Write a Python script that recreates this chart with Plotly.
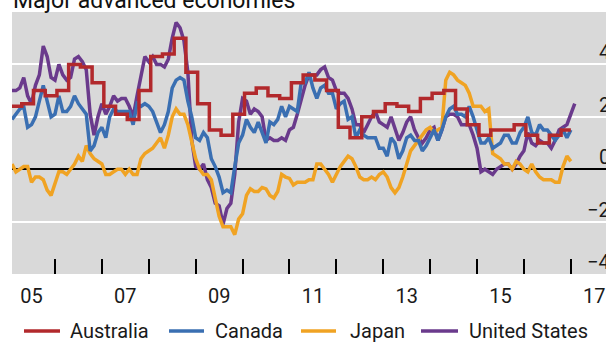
import plotly.graph_objects as go

FIRST_YEAR = 2005

# Consumer price inflation, year-on-year, per cent.
# Monthly series start in January 2005.
united_states = [
    3.0, 3.0, 3.1, 3.5, 2.8, 2.5, 3.2, 3.6, 4.7, 4.3, 3.5, 3.4,
    4.0, 3.6, 3.4, 3.5, 4.2, 4.3, 4.1, 3.8, 2.1, 1.3, 2.0, 2.5,
    2.1, 2.4, 2.8, 2.6, 2.7, 2.7, 2.4, 2.0, 2.8, 3.5, 4.3, 4.1,
    4.3, 4.0, 4.0, 3.9, 4.2, 5.0, 5.6, 5.4, 4.9, 3.7, 1.1, 0.1,
    0.0, 0.2, -0.4, -0.7, -1.3, -1.4, -2.1, -1.5, -1.3, -0.2, 1.8, 2.7,
    2.6, 2.1, 2.3, 2.2, 2.0, 1.1, 1.2, 1.1, 1.1, 1.2, 1.1, 1.5,
    1.6, 2.1, 2.7, 3.2, 3.6, 3.6, 3.6, 3.8, 3.9, 3.5, 3.4, 3.0,
    2.9, 2.9, 2.7, 2.3, 1.7, 1.7, 1.4, 1.7, 2.0, 2.2, 1.8, 1.7,
    1.6, 2.0, 1.5, 1.1, 1.4, 1.8, 2.0, 1.5, 1.2, 1.0, 1.2, 1.5,
    1.6, 1.1, 1.5, 2.0, 2.1, 2.1, 2.0, 1.7, 1.7, 1.7, 1.3, 0.8,
    -0.1, 0.0, -0.1, -0.2, 0.0, 0.1, 0.2, 0.2, 0.0, 0.2, 0.5, 0.7,
    1.4, 1.0, 0.9, 1.1, 1.0, 1.0, 0.8, 1.1, 1.5, 1.6, 1.7, 2.1,
    2.5,
]

canada = [
    1.9, 2.1, 2.3, 2.4, 1.6, 1.7, 2.0, 2.6, 3.2, 2.6, 2.0, 2.1,
    2.8, 2.2, 2.2, 2.4, 2.8, 2.5, 2.3, 2.1, 0.7, 0.9, 1.4, 1.6,
    1.2, 2.0, 2.3, 2.2, 2.2, 2.2, 2.2, 1.7, 2.5, 2.4, 2.5, 2.4,
    2.2, 1.8, 1.4, 1.7, 2.2, 3.1, 3.4, 3.5, 3.4, 2.6, 2.0, 1.2,
    1.1, 1.4, 1.2, 0.4, 0.1, -0.3, -0.9, -0.8, -0.9, 0.1, 1.0, 1.3,
    1.9, 1.6, 1.4, 1.8, 1.4, 1.0, 1.8, 1.7, 1.9, 2.4, 2.0, 2.4,
    2.3, 2.2, 3.3, 3.3, 3.7, 3.1, 2.7, 3.1, 3.2, 2.9, 2.9, 2.3,
    2.5, 2.6, 1.9, 2.0, 1.2, 1.5, 1.3, 1.2, 1.2, 1.2, 0.8, 0.8,
    0.5, 1.2, 1.0, 0.4, 0.7, 1.2, 1.3, 1.1, 1.1, 0.7, 0.9, 1.2,
    1.5, 1.1, 1.5, 2.0, 2.3, 2.4, 2.1, 2.1, 2.0, 2.4, 2.0, 1.5,
    1.0, 1.0, 1.2, 0.8, 0.9, 1.0, 1.3, 1.3, 1.0, 1.0, 1.4, 1.6,
    2.0, 1.4, 1.3, 1.7, 1.5, 1.5, 1.3, 1.1, 1.3, 1.5, 1.2, 1.5,
]

japan = [
    0.2, -0.1, 0.0, 0.1, 0.1, -0.5, -0.3, -0.3, -0.4, -0.8, -1.0, -0.5,
    -0.1, -0.1, -0.2, 0.0, 0.2, 0.5, 0.3, 0.9, 0.6, 0.4, 0.3, 0.2,
    -0.2, -0.2, -0.1, 0.0, 0.0, -0.2, 0.0, -0.2, -0.2, 0.4, 0.6, 0.7,
    0.8, 1.0, 1.2, 0.8, 1.3, 2.0, 2.3, 2.1, 2.1, 1.7, 1.0, 0.4,
    0.0, -0.2, -0.2, -0.4, -1.1, -1.8, -2.2, -2.2, -2.2, -2.5, -1.9, -1.7,
    -1.0, -0.75, -0.85, -0.85, -0.7, -0.75, -1.0, -1.1, -0.85, -0.2, -0.3, -0.35,
    -0.6, -0.5, -0.5, -0.5, -0.4, -0.4, 0.2, 0.2, 0.0, -0.2, -0.5, -0.2,
    0.1, 0.3, 0.5, 0.4, 0.1, -0.3, -0.4, -0.4, -0.3, -0.4, -0.2, -0.1,
    -0.3, -0.7, -0.9, -0.7, -0.3, 0.2, 0.7, 0.9, 1.1, 1.3, 1.5, 1.6,
    1.4, 1.5, 1.6, 3.4, 3.7, 3.6, 3.4, 3.3, 3.2, 2.9, 2.4, 2.4,
    2.4, 2.2, 2.3, 0.6, 0.5, 0.4, 0.2, 0.2, 0.0, 0.3, 0.2, 0.0,
    -0.1, 0.2, -0.1, -0.3, -0.4, -0.4, -0.4, -0.5, -0.5, 0.1, 0.5, 0.3,
]

# Australia is published quarterly, Q1 2005 to Q4 2016.
australia_q = [
    2.4, 2.5, 3.0, 2.8,
    3.0, 4.0, 3.9, 3.3,
    2.4, 2.1, 1.9, 3.0,
    4.3, 4.4, 5.0, 3.7,
    2.5, 1.5, 1.3, 2.1,
    2.9, 3.1, 2.8, 2.7,
    3.3, 3.6, 3.4, 3.0,
    1.6, 1.2, 2.0, 2.2,
    2.5, 2.4, 2.2, 2.7,
    2.9, 3.0, 2.3, 1.7,
    1.3, 1.5, 1.5, 1.7,
    1.3, 1.0, 1.3, 1.5,
]

label_years = [2005, 2007, 2009, 2011, 2013, 2015, 2017]
year_labels = ["05", "07", "09", "11", "13", "15", "17"]
value_ticks = [-4, -2, 0, 2, 4]

series_names = ["Australia", "Canada", "Japan", "United States"]
series_colors = ["#B2292C", "#3A6FB2", "#F0A323", "#6A3A8C"]

FONT = "Roboto"
TEXT_COLOR = "#1a1a1a"

# Plot-area geometry in pixels
WIDTH, HEIGHT = 606, 342
PLOT_LEFT, PLOT_RIGHT, PLOT_TOP, PLOT_BOTTOM = 12, 606, 12, 274


def month_positions(n):
    # each monthly observation sits at the end of its month
    return [FIRST_YEAR + (i + 1) / 12 for i in range(n)]


def paper_x(px):
    return (px - PLOT_LEFT) / (PLOT_RIGHT - PLOT_LEFT)


def paper_y(py):
    return (PLOT_BOTTOM - py) / (PLOT_BOTTOM - PLOT_TOP)


def value_label(v):
    return str(v).replace("-", "\u2212")


# quarterly steps: each level covers its three months
quarter_x = [FIRST_YEAR + (3 * k + 0.5) / 12 for k in range(len(australia_q))]
quarter_x.append(FIRST_YEAR + 3 * len(australia_q) / 12)
quarter_y = australia_q + australia_q[-1:]

x_range = [FIRST_YEAR + 1 / 12, 2017.75]

fig = go.Figure()

line_w = 3.5
fig.add_trace(go.Scatter(x=month_positions(len(united_states)), y=united_states, mode="lines",
                         name=series_names[3], line=dict(color=series_colors[3], width=line_w)))
fig.add_trace(go.Scatter(x=month_positions(len(japan)), y=japan, mode="lines",
                         name=series_names[2], line=dict(color=series_colors[2], width=line_w)))
fig.add_trace(go.Scatter(x=month_positions(len(canada)), y=canada, mode="lines",
                         name=series_names[1], line=dict(color=series_colors[1], width=line_w)))
fig.add_trace(go.Scatter(x=quarter_x, y=quarter_y, mode="lines", line_shape="hv",
                         name=series_names[0], line=dict(color=series_colors[0], width=line_w)))

# Hand-placed legend row under the axis
legend_rows = [  # (line start px, line end px, text start px)
    (24, 60, 70),
    (169, 204, 215),
    (301, 336, 350),
    (421, 458, 469),
]
legend_y = 331
shapes = []
annotations = []
for (x0, x1, tx), name, color in zip(legend_rows, series_names, series_colors):
    shapes.append(dict(type="line", xref="paper", yref="paper",
                       x0=paper_x(x0), x1=paper_x(x1), y0=paper_y(legend_y), y1=paper_y(legend_y),
                       line=dict(color=color, width=3.5)))
    annotations.append(dict(text=name, xref="paper", yref="paper", x=paper_x(tx), y=paper_y(legend_y),
                            xanchor="left", yanchor="middle", showarrow=False, xshift=-2,
                            font=dict(family=FONT, size=20, color=TEXT_COLOR)))

# Value labels sit just above their gridlines, hugging the right edge
for v in value_ticks:
    annotations.append(dict(text=value_label(v), xref="paper", yref="y", x=1, y=v,
                            xanchor="right", yanchor="middle", showarrow=False,
                            xshift=6, yshift=12,
                            font=dict(family=FONT, size=20, color=TEXT_COLOR)))

annotations.append(dict(text="Major advanced economies", xref="paper", yref="paper", x=0, y=1,
                        xanchor="left", yanchor="bottom", showarrow=False, yshift=-4, xshift=-1,
                        font=dict(family=FONT, size=23, color="#111111")))

fig.update_layout(
    width=WIDTH, height=HEIGHT,
    margin=dict(l=PLOT_LEFT, r=WIDTH - PLOT_RIGHT, t=PLOT_TOP, b=HEIGHT - PLOT_BOTTOM, pad=0),
    paper_bgcolor="white", plot_bgcolor="#D9D9D9",
    showlegend=False,
    font=dict(family=FONT, size=20, color=TEXT_COLOR),
    xaxis=dict(
        range=x_range, tickmode="array",
        tickvals=[y + 0.5 for y in label_years], ticktext=year_labels,
        ticks="", showgrid=False, zeroline=False, showline=False,
        ticklabelstandoff=8,
        tickfont=dict(family=FONT, size=20, color=TEXT_COLOR),
        minor=dict(tickmode="array", tickvals=list(range(2005, 2018)), ticks="inside",
                   ticklen=15, tickwidth=1.5, tickcolor="black", showgrid=False),
        fixedrange=True,
    ),
    xaxis2=dict(
        overlaying="x", anchor="y", range=x_range, tickmode="array",
        tickvals=label_years[1:], showgrid=True, gridcolor="white", gridwidth=2,
        showticklabels=False, ticks="", zeroline=False, showline=False, fixedrange=True,
    ),
    yaxis=dict(
        range=[-4, 6], tickmode="array", tickvals=value_ticks, side="right",
        showticklabels=False,
        showgrid=True, gridcolor="white", gridwidth=2,
        zeroline=True, zerolinecolor="black", zerolinewidth=1.5,
        ticks="", showline=False, fixedrange=True,
    ),
    shapes=shapes,
    annotations=annotations,
)

fig.write_html("out.html")
